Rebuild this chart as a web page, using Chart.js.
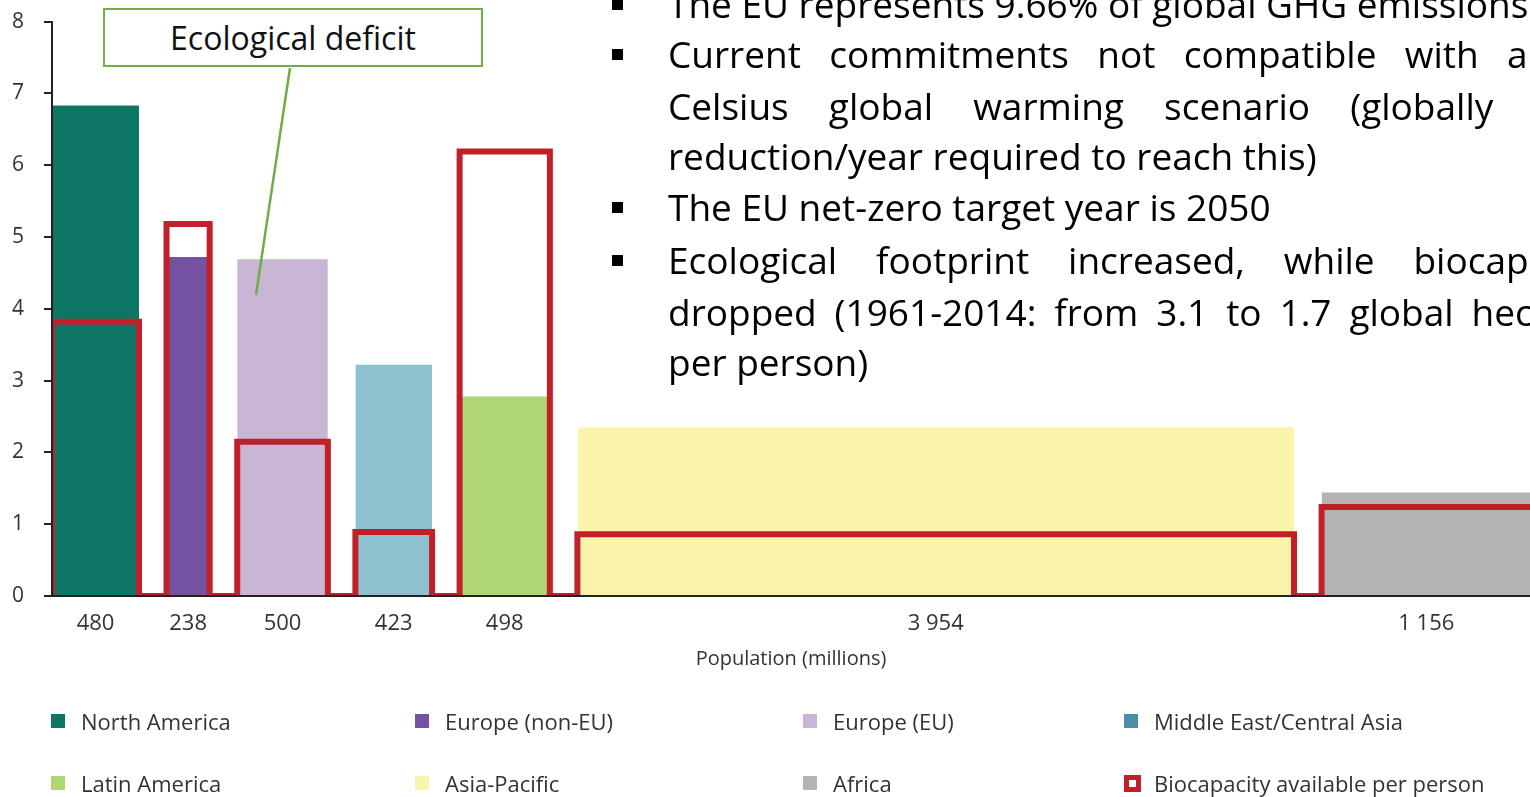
<!DOCTYPE html>
<html>
<head>
<meta charset="utf-8">
<script src="https://cdn.jsdelivr.net/npm/chart.js@4.4.1/dist/chart.umd.min.js"></script>
<style>
  html, body { margin: 0; padding: 0; background: #fff; overflow: hidden; }
  body { width: 1530px; height: 797px; position: relative; font-family: 'Open Sans', sans-serif; color: #333; }
  /* área do gráfico: topo do eixo y em 20px, eixo x em 596px */
  #wrap { position: absolute; left: 0; top: -11px; width: 1530px; height: 691px; }
  .linha { position: absolute; left: 668px; font-size: 37px; line-height: 51px; color: #000; }
  .just { text-align: justify; text-align-last: justify; }
  .marca { position: absolute; left: 612px; width: 11px; height: 11px; background: #000; }
  .caixa { position: absolute; left: 103px; top: 8px; width: 380px; height: 59px; box-sizing: border-box;
           border: 2px solid #70ad47; background: #fff; font-size: 32px; line-height: 55px; text-align: center; color: #111; }
  .leg { position: absolute; font-size: 22px; color: #333; white-space: nowrap; }
  .leg i { position: absolute; left: 0; top: 50%; width: 14px; height: 14px; margin-top: -7px; box-sizing: border-box; }
  .leg span { position: absolute; left: 30px; top: 50%; transform: translateY(-50%); }
</style>
</head>
<body>
<div id="wrap"><canvas id="graf"></canvas></div>

<svg style="position:absolute;left:0;top:0" width="1530" height="797">
  <line x1="290" y1="68" x2="256" y2="295" stroke="#70ad47" stroke-width="2.5"/>
</svg>
<div class="caixa">Ecological deficit</div>

<div id="notas"></div>
<div id="legenda"></div>

<script>
// dados (hectares globais por pessoa x população em milhões)
const REGIONS = ['North America', 'Europe (non-EU)', 'Europe (EU)', 'Middle East/Central Asia',
                 'Latin America', 'Asia-Pacific', 'Africa'];
const POPULATION = [480, 238, 500, 423, 498, 3954, 1156];
const FOOTPRINT = [6.83, 4.72, 4.69, 3.22, 2.78, 2.35, 1.44];
const BIOCAPACITY = [3.82, 5.18, 2.15, 0.89, 6.19, 0.86, 1.24];
const Y_TICKS = [0, 1, 2, 3, 4, 5, 6, 7, 8];
const X_TITLE = 'Population (millions)';
const BIO_LABEL = 'Biocapacity available per person';

const BAR_COLORS = ['#0e7664', '#7451a1', '#c8b6d4', '#8cc1d0', '#aed674', '#faf4aa', '#b3b3b3'];
const SWATCH_COLORS = ['#0e7664', '#7451a1', '#c8b6d4', '#4a8fa5', '#aed674', '#faf4aa', '#b3b3b3'];
const RED = '#c1202b';

const GAP = 152;    // espaço entre colunas, em milhões
const X_MAX = 8155;

// linhas do texto em tópicos (w = largura justificada da linha)
const NOTES = [
  { y: 3,   bullet: true,  w: 0,   txt: 'The EU represents 9.66% of global GHG emissions' },
  { y: 53,  bullet: true,  w: 940, txt: 'Current commitments not compatible with a 1.5' },
  { y: 105, bullet: false, w: 948, txt: 'Celsius global warming scenario (globally 7.6%' },
  { y: 155, bullet: false, w: 0,   txt: 'reduction/year required to reach this)' },
  { y: 206, bullet: true,  w: 0,   txt: 'The EU net-zero target year is 2050' },
  { y: 259, bullet: true,  w: 940, txt: 'Ecological footprint increased, while biocapacity' },
  { y: 311, bullet: false, w: 952, txt: 'dropped (1961-2014: from 3.1 to 1.7 global hectares' },
  { y: 361, bullet: false, w: 0,   txt: 'per person)' },
];

function milhar(n) {
  return String(n).replace(/\B(?=(\d{3})+(?!\d))/g, ' ');
}

// posição de cada coluna no eixo x (largura = população)
let acc = 0;
const starts = POPULATION.map((p) => { const s = acc; acc += p + GAP; return s; });
const ends = starts.map((s, i) => s + POPULATION[i]);
const centers = starts.map((s, i) => s + POPULATION[i] / 2);

const datasets = [];
datasets.push({
  label: BIO_LABEL,
  data: starts.flatMap((s, i) => [
    { x: s, y: 0 }, { x: s, y: BIOCAPACITY[i] }, { x: ends[i], y: BIOCAPACITY[i] }, { x: ends[i], y: 0 },
  ]),
  showLine: true, fill: false, borderColor: RED, borderWidth: 6,
  borderJoinStyle: 'miter', borderCapStyle: 'butt', pointRadius: 0, order: 1,
});
REGIONS.forEach((r, i) => {
  datasets.push({
    label: r,
    data: [{ x: starts[i], y: 0 }, { x: starts[i], y: FOOTPRINT[i] },
           { x: ends[i], y: FOOTPRINT[i] }, { x: ends[i], y: 0 }],
    showLine: true, fill: 'origin', backgroundColor: BAR_COLORS[i],
    borderColor: 'rgba(0,0,0,0)', borderWidth: 0, pointRadius: 0, order: 2,
  });
});

new Chart(document.getElementById('graf'), {
  type: 'scatter',
  data: { datasets },
  options: {
    responsive: true, maintainAspectRatio: false, animation: false, events: [],
    layout: { padding: { top: 9, left: 0, right: 0, bottom: 0 } },
    plugins: { legend: { display: false }, tooltip: { enabled: false } },
    scales: {
      x: {
        type: 'linear', min: 0, max: X_MAX,
        afterBuildTicks: (s) => { s.ticks = centers.map((v) => ({ value: v })); },
        afterFit: (s) => { s.height = 84; },
        ticks: { autoSkip: false, maxRotation: 0, padding: 15, color: '#333',
                 font: { family: 'Open Sans', size: 22 },
                 callback: (v, i) => milhar(POPULATION[i]) },
        grid: { display: false, drawTicks: false },
        border: { display: true, color: '#222', width: 2, z: 1 },
        title: { display: true, text: X_TITLE, color: '#333',
                 font: { family: 'Open Sans', size: 20 }, padding: { top: 0, bottom: 9 } },
      },
      y: {
        min: 0, max: 8,
        afterBuildTicks: (s) => { s.ticks = Y_TICKS.map((v) => ({ value: v })); },
        afterFit: (s) => { s.width = 52; },
        ticks: { padding: 20, color: '#333', font: { family: 'Open Sans', size: 21 } },
        grid: { display: true, drawOnChartArea: false, drawTicks: true, tickLength: 8,
                color: '#222', lineWidth: 2 },
        border: { display: true, color: '#222', width: 2, z: 1 },
      },
    },
  },
});

// texto em tópicos sobre o gráfico
const notas = document.getElementById('notas');
NOTES.forEach((n) => {
  const d = document.createElement('div');
  d.className = 'linha' + (n.w ? ' just' : '');
  if (n.w) d.style.width = n.w + 'px';
  d.style.top = (n.y - 25.5) + 'px';
  d.textContent = n.txt;
  notas.appendChild(d);
  if (n.bullet) {
    const b = document.createElement('div');
    b.className = 'marca';
    b.style.top = (n.y - 4) + 'px';
    notas.appendChild(b);
  }
});

// legenda em 4 colunas
const COLS = [51, 415, 803, 1124];
const ROWS = [721, 783];
const leg = document.getElementById('legenda');
const itens = REGIONS.map((r, i) => ({ txt: r, cor: SWATCH_COLORS[i] }));
itens.push({ txt: BIO_LABEL, bio: true });
itens.forEach((it, i) => {
  const el = document.createElement('div');
  el.className = 'leg';
  el.style.left = COLS[i % 4] + 'px';
  el.style.top = ROWS[Math.floor(i / 4)] + 'px';
  const sw = document.createElement('i');
  if (it.bio) {
    sw.style.width = '17px'; sw.style.height = '17px'; sw.style.marginTop = '-8px';
    sw.style.border = '5px solid ' + RED; sw.style.background = '#fff';
  } else {
    sw.style.background = it.cor;
  }
  const tx = document.createElement('span');
  tx.textContent = it.txt;
  el.append(sw, tx);
  leg.appendChild(el);
});
</script>
</body>
</html>
